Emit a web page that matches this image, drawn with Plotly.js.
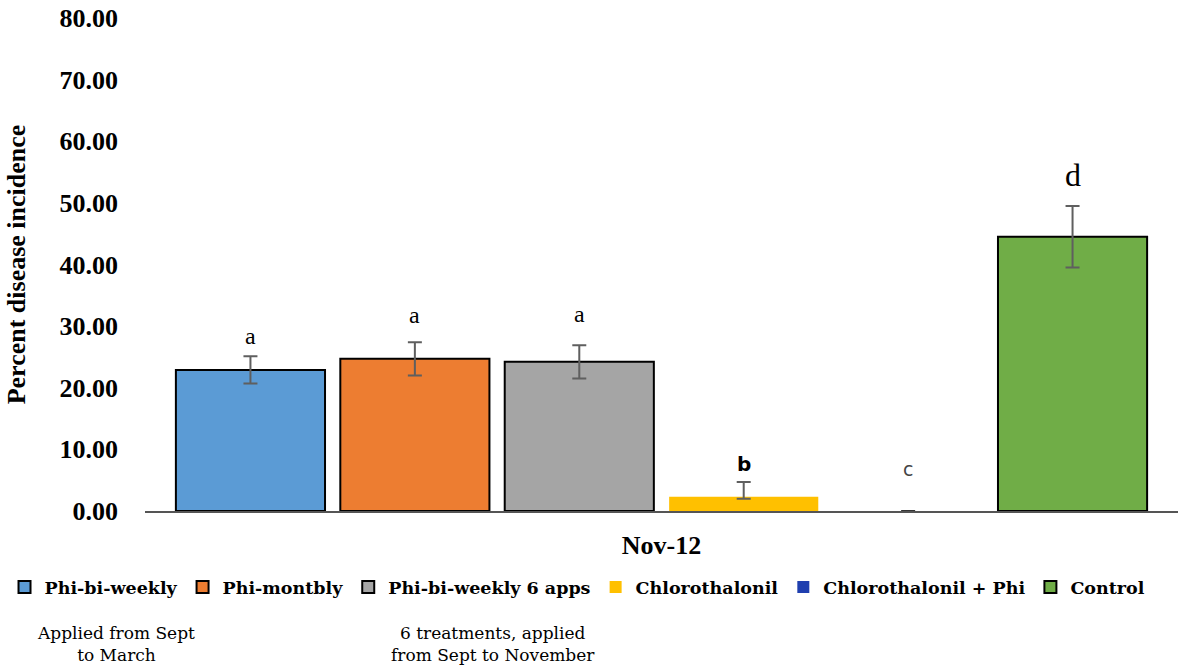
<!DOCTYPE html>
<html>
<head>
<meta charset="utf-8">
<script src="https://cdn.plot.ly/plotly-3.0.1.min.js"></script>
<style>html,body{margin:0;padding:0;background:#fff;}#chart{width:1182px;height:666px;}</style>
</head>
<body>
<div id="chart"></div>
<script>
const categories = ["Nov-12"];
const treatments = ["Phi-bi-weekly", "Phi-montbly", "Phi-bi-weekly 6 apps", "Chlorothalonil", "Chlorothalonil + Phi", "Control"];
const values = [22.9, 24.7, 24.2, 2.3, 0.0, 44.5];
const errPlus = [2.2, 2.7, 2.7, 2.4, 0, 5.0];
const errMinus = [2.2, 2.7, 2.7, 0.3, 0, 5.0];
const letters = ["a", "a", "a", "b", "c", "d"];
const letterY = [28.4, 31.8, 32.0, 7.7, 6.8, 54.6];
const yTicks = [0, 10, 20, 30, 40, 50, 60, 70, 80];
const notes = ["Applied from Sept<br>to March", "6 treatments, applied<br>from Sept to November"];

const colors = ["#5B9BD5", "#ED7D31", "#A5A5A5", "#FFC000", "#1F3FAF", "#70AD47"];
const outlines = ["#000", "#000", "#000", "rgba(0,0,0,0)", "rgba(0,0,0,0)", "#000"];
const serif = "Liberation Serif";
const wideSerif = "DejaVu Serif";

const bargap = 0.045, bargroupgap = 0.093;

const traces = treatments.map((t, i) => ({
  type: "bar",
  name: t,
  x: categories,
  y: [values[i]],
  marker: {color: colors[i], line: {color: outlines[i], width: 2}},
  error_y: {type: "data", symmetric: false, array: [errPlus[i]], arrayminus: [errMinus[i]],
            visible: true, color: i === 4 ? "#333" : "#5f5f5f", thickness: 2, width: 7},
  hoverinfo: "skip"
}));

const n = treatments.length;
const slot = (1 - bargap) / n;
const letterAnn = letters.map((l, i) => ({
  xref: "paper", yref: "y",
  x: bargap / 2 + slot * (i + 0.5), y: letterY[i],
  text: l, showarrow: false,
  font: {family: (i === 3 || i === 4) ? "DejaVu Sans" : serif,
         size: i === 5 ? 32 : (i === 3 ? 20 : (i === 4 ? 19 : 24)),
         color: i === 4 ? "#444" : "#000",
         weight: i === 3 ? "bold" : "normal"},
  xanchor: "center", yanchor: "middle"
}));

const noteAnn = [
  {xref: "paper", yref: "paper", x: (112 - 141) / 1037, y: -0.27, text: notes[0]},
  {xref: "paper", yref: "paper", x: (490 - 141) / 1037, y: -0.27, text: notes[1]}
].map(a => Object.assign(a, {showarrow: false, xanchor: "center", yanchor: "middle",
  font: {family: wideSerif, size: 17, color: "#000"}}));

const layout = {
  width: 1182, height: 666,
  margin: {l: 141, r: 4, t: 18, b: 155},
  paper_bgcolor: "#fff", plot_bgcolor: "#fff",
  font: {family: serif, color: "#000"},
  barmode: "group", bargap: bargap, bargroupgap: bargroupgap,
  showlegend: true,
  legend: {orientation: "h", x: -0.136, xanchor: "left", y: -0.118, yanchor: "top",
           font: {family: wideSerif, size: 17.5, color: "#000", weight: "bold"},
           itemwidth: 30, tracegroupgap: 0, traceorder: "normal"},
  xaxis: {type: "category", showline: true, linecolor: "#555", linewidth: 1.5,
          ticks: "", showgrid: false, zeroline: false, ticklabelstandoff: 10,
          tickfont: {family: serif, size: 26, color: "#000", weight: "bold"}},
  yaxis: {range: [0, 80], tickvals: yTicks, tickformat: ".2f", showline: false,
          showgrid: false, zeroline: false, ticks: "",
          tickfont: {family: serif, size: 26, color: "#000", weight: "bold"},
          ticklabelstandoff: 26,
          title: {text: "Percent disease incidence", standoff: 26,
                  font: {family: serif, size: 26, color: "#000", weight: "bold"}}},
  annotations: letterAnn.concat(noteAnn)
};

Plotly.newPlot("chart", traces, layout, {displayModeBar: false, staticPlot: true});
</script>
</body>
</html>
